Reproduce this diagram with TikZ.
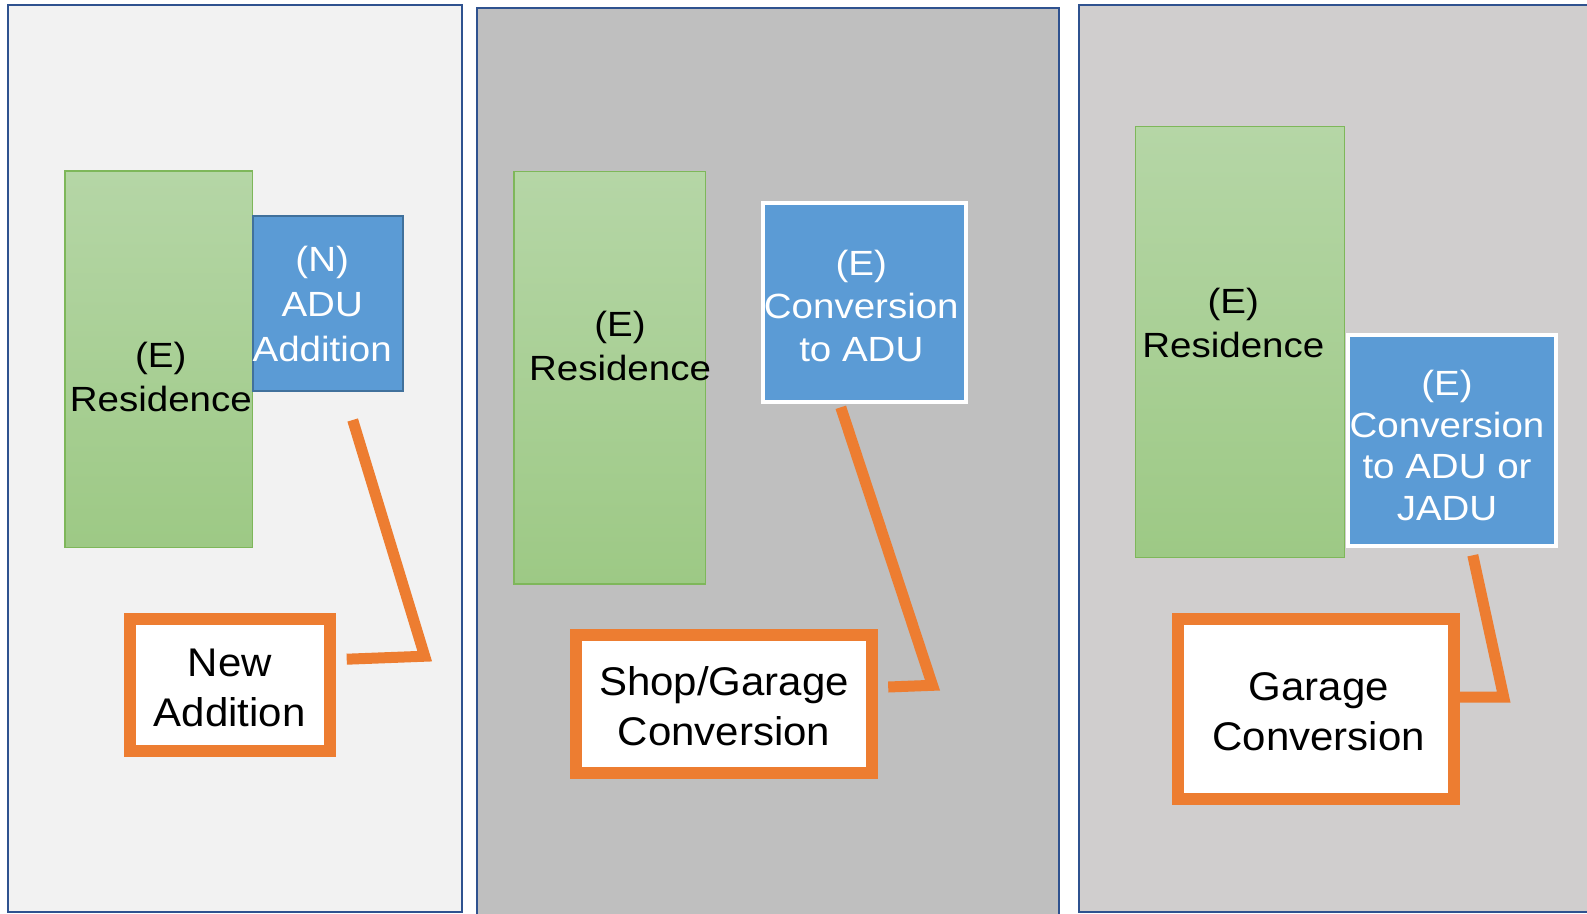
\documentclass[tikz,border=0pt]{standalone}
\usepackage{fontspec}
\newfontfamily\innerfont{Liberation Sans}[FakeStretch=1.1]
\newfontfamily\calloutfont{Liberation Sans}[FakeStretch=1.05]
\definecolor{framec}{RGB}{47,82,143}
\definecolor{pone}{RGB}{242,242,242}
\definecolor{ptwo}{RGB}{191,191,191}
\definecolor{pthree}{RGB}{208,206,206}
\definecolor{gtop}{RGB}{181,214,166}
\definecolor{gbot}{RGB}{157,201,133}
\definecolor{gline}{RGB}{126,183,90}
\definecolor{bfill}{RGB}{91,155,213}
\definecolor{bline}{RGB}{65,113,156}
\definecolor{orng}{RGB}{237,125,49}
\begin{document}
\begin{tikzpicture}[x=1pt,y=-1pt,
  panel/.style={draw=framec, line width=2pt},
  house/.style={draw=gline, line width=1.5pt, top color=gtop, bottom color=gbot, inner sep=0pt},
  adu/.style={fill=bfill, inner sep=0pt},
  callout/.style={draw=orng, fill=white, line width=12pt, inner sep=0pt},
  leader/.style={draw=orng, line width=11pt, line join=miter, line cap=butt},
  blacktext/.style={font=\innerfont\fontsize{35}{44}\selectfont, align=center, anchor=base, inner sep=0pt, text=black},
  whitetext/.style={font=\innerfont\fontsize{35}{#1}\selectfont, align=center, anchor=base, inner sep=0pt, text=white},
  calltext/.style={font=\calloutfont\fontsize{40}{50}\selectfont, align=center, anchor=base, inner sep=0pt, text=black}
]
\useasboundingbox (0,0) rectangle (1587,913);
\clip (0,0) rectangle (1587,913);
\fill[white] (0,0) rectangle (1587,913);

% panels
\draw[panel, fill=pone] (8.3,5) rectangle (461.7,912);
\draw[panel, fill=ptwo] (476.6,8.3) rectangle (1059,930);
\draw[panel, fill=pthree] (1078.5,5) rectangle (1600,912);

% panel 1
\node[house, minimum width=187.5pt, minimum height=376.8pt] (g1) at (158.8,359.2) {};
\node[adu, draw=bline, line width=2pt, minimum width=149.7pt, minimum height=175pt] (b1) at (328.2,303.8) {};
\node[blacktext] (tg1) at (160.8,411.7) {(E)\\Residence};
\node[whitetext=45] (tb1) at (322.2,361.7) {(N)\\ADU\\Addition};
\node[callout, minimum width=200pt, minimum height=131.7pt] (o1) at (230,685.2) {};
\node[calltext] (to1) at (229.8,726.7) {New\\Addition};
\coordinate (k1a) at (346.7,659.2);
\coordinate (k1b) at (424.7,656.2);
\coordinate (k1c) at (352.7,420);
\draw[leader] (k1a) -- (k1b) -- (k1c);

% panel 2
\node[house, minimum width=191.5pt, minimum height=412.5pt] (g2) at (609.9,377.9) {};
\node[adu, draw=white, line width=4pt, minimum width=203.2pt, minimum height=199pt] (b2) at (864.1,302.8) {};
\node[blacktext] (tg2) at (620,380) {(E)\\Residence};
\node[whitetext=43.3] (tb2) at (861.3,361.7) {(E)\\Conversion\\to ADU};
\node[callout, minimum width=295.7pt, minimum height=137.7pt] (o2) at (724.2,703.8) {};
\node[calltext] (to2) at (724,745) {Shop/Garage\\Conversion};
\coordinate (k2a) at (888.2,687);
\coordinate (k2b) at (932.5,685.3);
\coordinate (k2c) at (840.8,407.3);
\draw[leader] (k2a) -- (k2b) -- (k2c);

% panel 3
\node[house, minimum width=209.3pt, minimum height=430.8pt] (g3) at (1240,341.9) {};
\node[adu, draw=white, line width=4pt, minimum width=207.4pt, minimum height=211.6pt] (b3) at (1452.1,440.5) {};
\node[blacktext] (tg3) at (1233.3,357.3) {(E)\\Residence};
\node[whitetext=41.7] (tb3) at (1447,520.5) {(E)\\Conversion\\to ADU or\\JADU};
\node[callout, minimum width=275.5pt, minimum height=179.2pt] (o3) at (1316,708.9) {};
\node[calltext] (to3) at (1318.8,750) {Garage\\Conversion};
\coordinate (k3b) at (1503.7,697.2);
\coordinate (k3c) at (1472.8,555.3);
\draw[leader] (o3.east |- k3b) -- (k3b) -- (k3c);
\end{tikzpicture}
\end{document}
